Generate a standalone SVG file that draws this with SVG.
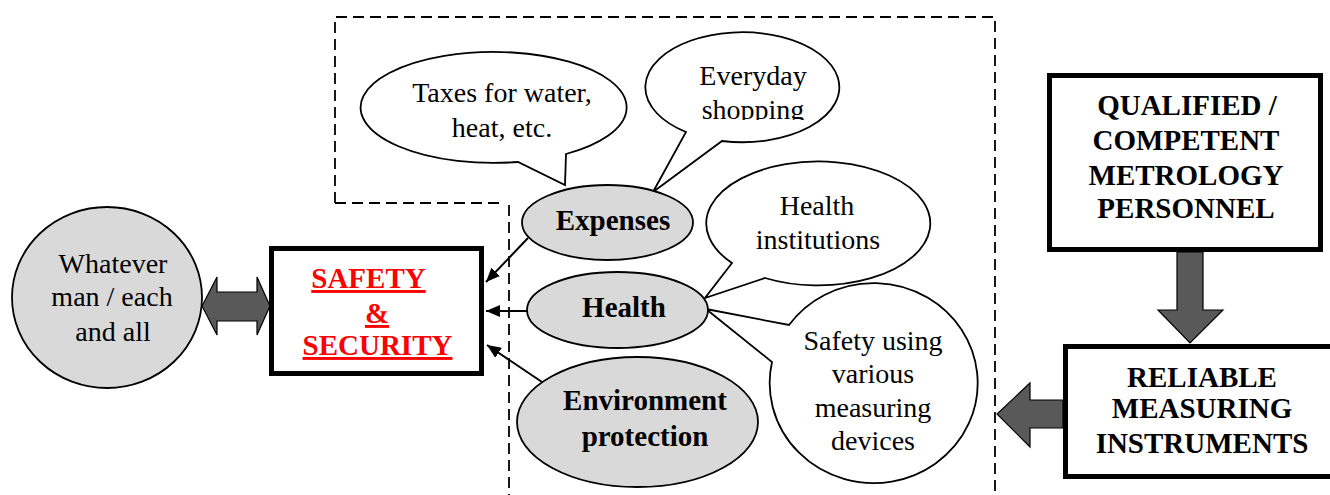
<svg xmlns="http://www.w3.org/2000/svg" width="1330" height="495" viewBox="0 0 1330 495">
<style>
.t{font-family:"Liberation Serif","Times New Roman",serif;font-size:28px;fill:#000;text-anchor:middle}
.b{font-family:"Liberation Serif","Times New Roman",serif;font-size:29px;font-weight:bold;fill:#000;text-anchor:middle}
.r{font-family:"Liberation Serif","Times New Roman",serif;font-size:29px;font-weight:bold;fill:#ff0000;text-anchor:middle;text-decoration:underline}
.gray{fill:#d9d9d9;stroke:#000;stroke-width:1.8}
.call{fill:#fff;stroke:#000;stroke-width:1.8;stroke-linejoin:miter}
.box{fill:#fff;stroke:#000;stroke-width:5}
.fat{fill:#595959;stroke:#000;stroke-width:1.2;stroke-linejoin:miter}
.dash{fill:none;stroke:#000;stroke-width:1.8;stroke-dasharray:11 6}
.conn{stroke:#000;stroke-width:2;fill:none}
</style>
<defs>
<marker id="ah" viewBox="0 0 14 12" refX="14" refY="6" markerWidth="14" markerHeight="12" markerUnits="userSpaceOnUse" orient="auto">
<path d="M0,0 L14,6 L0,12 Z" fill="#000"/>
</marker>
<clipPath id="clipShop"><rect x="640" y="30" width="210" height="90"/></clipPath>
</defs>
<rect width="1330" height="495" fill="#fff"/>

<g id="frame">
<path class="dash" d="M335,203 L335,17 L995,17 L995,495"/>
<path class="dash" d="M335,203 L503,203"/>
<path class="dash" d="M509,205 L509,495"/>
</g>

<g id="connectors">
<line class="conn" x1="528" y1="238" x2="486" y2="282" marker-end="url(#ah)"/>
<line class="conn" x1="527" y1="311" x2="486" y2="311" marker-end="url(#ah)"/>
<line class="conn" x1="542" y1="382" x2="487" y2="345" marker-end="url(#ah)"/>
<path id="double-arrow" class="fat" d="M202,306 L217,277 L217,292 L257,292 L257,277 L270,306 L257,335 L257,321 L217,321 L217,335 Z"/>
<path id="down-arrow" class="fat" d="M1177,252 L1203,252 L1203,310 L1223,310 L1190,343 L1158,310 L1177,310 Z"/>
<path id="left-arrow" class="fat" d="M1063,400 L1030,400 L1030,383 L997,414 L1030,447 L1030,428 L1063,428 Z"/>
</g>

<g id="taxes">
<path class="call" d="M518,162 A133,55.5 0 1 1 566,154 L565,185 Z"/>
<text class="t" x="502" y="102">Taxes for water,</text>
<text class="t" x="502" y="137">heat, etc.</text>
</g>

<g id="everyday">
<path class="call" d="M686,132 A97,55 0 1 1 722,141 L653,192 Z"/>
<text class="t" x="753" y="85">Everyday</text>
<text class="t" x="753" y="119" clip-path="url(#clipShop)">shopping</text>
</g>

<g id="health-institutions">
<path class="call" d="M732,263 A112,62 0 1 1 765,278 L705,298 Z"/>
<text class="t" x="817" y="215">Health</text>
<text class="t" x="818" y="249">institutions</text>
</g>

<g id="safety-devices">
<path class="call" d="M772,362 A104,100 0 1 0 789,325 L706,309 Z"/>
<text class="t" x="873" y="350">Safety using</text>
<text class="t" x="873" y="383">various</text>
<text class="t" x="873" y="417">measuring</text>
<text class="t" x="873" y="450">devices</text>
</g>

<g id="expenses">
<ellipse class="gray" cx="607.5" cy="222.5" rx="85.5" ry="37.5"/>
<text class="b" x="613" y="230">Expenses</text>
</g>

<g id="health">
<ellipse class="gray" cx="617.5" cy="310" rx="90.5" ry="38"/>
<text class="b" x="624" y="317">Health</text>
</g>

<g id="environment">
<ellipse class="gray" cx="637.5" cy="422" rx="120.5" ry="65"/>
<text class="b" x="645" y="410">Environment</text>
<text class="b" x="645" y="446">protection</text>
</g>

<g id="whatever">
<ellipse class="gray" cx="107" cy="297.5" rx="95" ry="90.5"/>
<text class="t" x="113" y="273">Whatever</text>
<text class="t" x="112" y="306">man / each</text>
<text class="t" x="113" y="341">and all</text>
</g>

<g id="safety-security">
<rect class="box" x="271.5" y="248.5" width="210" height="125"/>
<text class="r" x="368.5" y="288">SAFETY</text>
<text class="r" x="377" y="323">&amp;</text>
<text class="r" x="377.5" y="355">SECURITY</text>
</g>

<g id="qualified">
<rect class="box" x="1049.5" y="75.5" width="271" height="174"/>
<text class="b" x="1187" y="115">QUALIFIED /</text>
<text class="b" x="1186" y="150">COMPETENT</text>
<text class="b" x="1186" y="185">METROLOGY</text>
<text class="b" x="1186" y="218">PERSONNEL</text>
</g>

<g id="reliable">
<rect class="box" x="1065.5" y="346.5" width="280" height="130"/>
<text class="b" x="1202" y="387">RELIABLE</text>
<text class="b" x="1202" y="418">MEASURING</text>
<text class="b" x="1202" y="453">INSTRUMENTS</text>
</g>
</svg>
